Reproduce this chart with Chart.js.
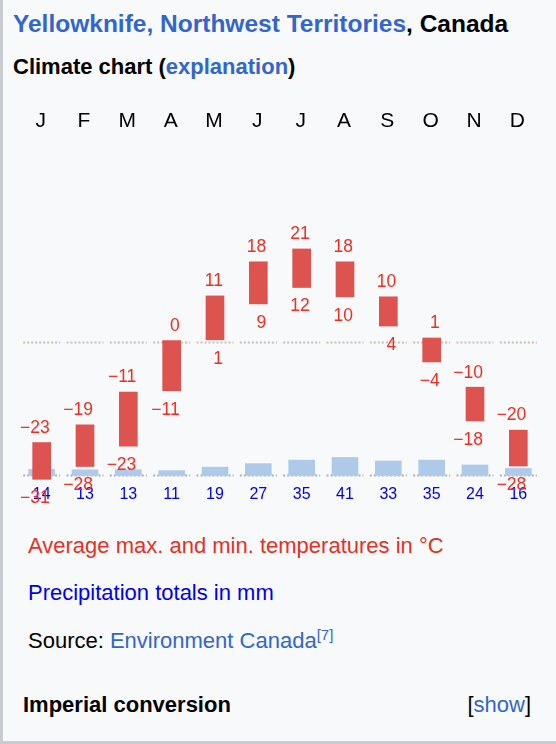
<!DOCTYPE html>
<html>
<head>
<meta charset="utf-8">
<script src="https://cdn.jsdelivr.net/npm/chart.js@4/dist/chart.umd.min.js"></script>
<style>
  body { margin: 0; background: #f8f9fa; font-family: "Liberation Sans", Arial, sans-serif; }
  #box { position: relative; width: 553px; height: 741px; border-left: 3px solid #c8ccd1; border-bottom: 3px solid #c8ccd1; background: #f8f9fa; }
  .t { position: absolute; white-space: nowrap; }
  .link { color: #3366cc; }
  #chartWrap { position: absolute; left: 16.5px; top: 100px; width: 520px; height: 410px; }
</style>
</head>
<body>
<div id="box">
  <div class="t" style="left:10px; top:9px; font-size:24.5px; font-weight:bold; line-height:30px;">
    <span class="link">Yellowknife, Northwest Territories</span>, Canada
  </div>
  <div class="t" style="left:10px; top:54px; font-size:22px; font-weight:bold; line-height:26px;">
    Climate chart (<span class="link">explanation</span>)
  </div>
  <div id="chartWrap"><canvas id="climate" width="520" height="410"></canvas></div>
  <div class="t" style="left:25px; top:533px; font-size:22px; line-height:26px; color:#e53125;">Average max. and min. temperatures in °C</div>
  <div class="t" style="left:25px; top:580px; font-size:22px; line-height:26px; color:#0000f0;">Precipitation totals in mm</div>
  <div class="t" style="left:25px; top:628px; font-size:22px; line-height:26px; color:#000;">Source: <span class="link">Environment Canada</span><sup style="font-size:15px; line-height:0; color:#3366cc;">[7]</sup></div>
  <div class="t" style="left:20px; top:692px; font-size:22px; font-weight:bold; line-height:26px;">Imperial conversion</div>
  <div class="t" style="right:25px; top:692px; font-size:22px; line-height:26px;">[<span class="link">show</span>]</div>
</div>

<script>
const months = ['J', 'F', 'M', 'A', 'M', 'J', 'J', 'A', 'S', 'O', 'N', 'D'];
// average max / min temperature in °C (bar ends)
const tempMax = [-22.7, -18.7, -11.3, 0.3, 10.4, 18.1, 21.0, 18.1, 10.2, 0.9, -10.2, -19.9];
const tempMin = [-31.0, -28.1, -23.5, -11.0, 0.5, 8.6, 12.3, 10.2, 3.6, -4.5, -17.8, -28.0];
// printed labels, as shown on the chart
const maxLabels = [-23, -19, -11, 0, 11, 18, 21, 18, 10, 1, -10, -20];
const minLabels = [-31, -28, -23, -11, 1, 9, 12, 10, 4, -4, -18, -28];
// precipitation totals in mm
const precip = [14, 13, 13, 11, 19, 27, 35, 41, 33, 35, 24, 16];

const fmt = v => (v < 0 ? '\u2212' + Math.abs(v) : String(v));

const climatePlugin = {
  id: 'climateDecor',
  beforeDatasetsDraw(chart) {
    const ctx = chart.ctx;
    const x = chart.scales.x;
    const y0 = Math.round(chart.scales.yT.getPixelForValue(0)) + 0.5;
    const p0 = Math.round(chart.scales.yP.getPixelForValue(0)) - 0.5;
    ctx.save();
    ctx.lineWidth = 2;
    ctx.setLineDash([2, 2]);
    months.forEach((m, i) => {
      const cx = x.getPixelForValue(i);
      ctx.strokeStyle = '#cdbfae';
      ctx.beginPath();
      ctx.moveTo(cx - 18.5, y0);
      ctx.lineTo(cx + 18.5, y0);
      ctx.stroke();
      ctx.strokeStyle = '#a9b0b8';
      ctx.beginPath();
      ctx.moveTo(cx - 18.5, p0);
      ctx.lineTo(cx + 18.5, p0);
      ctx.stroke();
    });
    ctx.restore();
  },
  afterDatasetsDraw(chart) {
    const ctx = chart.ctx;
    const x = chart.scales.x;
    const yT = chart.scales.yT;
    ctx.save();
    ctx.textBaseline = 'middle';
    // month letters
    ctx.font = '21px "Liberation Sans", Arial, sans-serif';
    ctx.fillStyle = '#000';
    ctx.textAlign = 'center';
    months.forEach((m, i) => ctx.fillText(m, x.getPixelForValue(i) - 1, 21));
    // precipitation values
    ctx.font = '16px "Liberation Sans", Arial, sans-serif';
    ctx.fillStyle = '#0000f0';
    precip.forEach((v, i) => ctx.fillText(String(v), x.getPixelForValue(i), 395));
    // temperature values
    ctx.font = '17.5px "Liberation Sans", Arial, sans-serif';
    ctx.fillStyle = '#ee2e24';
    ctx.textAlign = 'right';
    months.forEach((m, i) => {
      const cx = x.getPixelForValue(i) + 8;
      ctx.fillText(fmt(maxLabels[i]), cx, yT.getPixelForValue(tempMax[i]) - 14.5);
      ctx.fillText(fmt(minLabels[i]), cx, yT.getPixelForValue(tempMin[i]) + 19);
    });
    ctx.restore();
  }
};

new Chart(document.getElementById('climate'), {
  type: 'bar',
  data: {
    labels: months,
    datasets: [
      {
        label: 'Temperature',
        data: tempMax.map((hi, i) => [tempMin[i], hi]),
        yAxisID: 'yT',
        backgroundColor: '#dc5350',
        barThickness: 18,
        grouped: false,
        borderSkipped: false,
        order: 0,
      },
      {
        label: 'Precipitation',
        data: precip,
        yAxisID: 'yP',
        backgroundColor: '#afcae9',
        barThickness: 26,
        grouped: false,
        order: 1,
      },
    ],
  },
  options: {
    responsive: false,
    animation: false,
    layout: { padding: { top: 130, bottom: 20, left: 0, right: 0 } },
    plugins: { legend: { display: false }, tooltip: { enabled: false } },
    scales: {
      x: { display: false, offset: true },
      yT: { display: false, min: -33.41, max: 25.28 },
      yP: { display: false, min: -32.95, max: 557.95 },
    },
  },
  plugins: [climatePlugin],
});
</script>
</body>
</html>
